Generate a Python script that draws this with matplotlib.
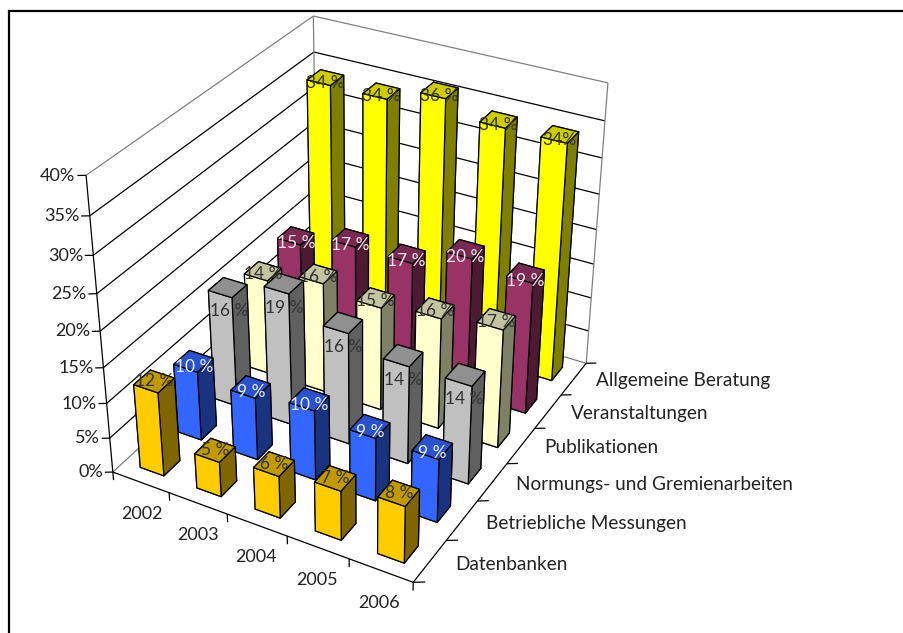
import numpy as np
import matplotlib
matplotlib.use("Agg")
import matplotlib.pyplot as plt
from matplotlib.lines import Line2D
from mpl_toolkits.mplot3d import proj3d

W, H = 904, 633

years = ["2002", "2003", "2004", "2005", "2006"]
series = ["Datenbanken", "Betriebliche Messungen", "Normungs- und Gremienarbeiten",
          "Publikationen", "Veranstaltungen", "Allgemeine Beratung"]
datenbanken = [12, 5, 6, 7, 8]
messungen = [10, 9, 10, 9, 9]
normung = [16, 19, 16, 14, 14]
publikationen = [14, 16, 15, 16, 17]
veranstaltungen = [15, 17, 17, 20, 19]
beratung = [34, 34, 36, 34, 34]
values = [datenbanken, messungen, normung, publikationen, veranstaltungen, beratung]
z_ticks = [0, 5, 10, 15, 20, 25, 30, 35, 40]

# front, side, top colour of each series
colors = [("#FFCC00", "#806600", "#C09A00"),
          ("#3366FF", "#1A3380", "#2952CC"),
          ("#C0C0C0", "#606060", "#909090"),
          ("#FFFFCC", "#808066", "#C4C4A0"),
          ("#993366", "#4D1A33", "#7A2952"),
          ("#FFFF00", "#808000", "#CCCC00")]
label_colors = ["#333333", "#E8ECFF", "#333333", "#333333", "#F0E6EC", "#333333"]
label_dz = [0, -0.8, -3.4, -0.4, -1.1, -0.7]

plt.rcParams["font.family"] = ["Lato", "DejaVu Sans"]
plt.rcParams["font.size"] = 13

fig = plt.figure(figsize=(W / 100, H / 100), dpi=100)
# square 3d axes wider than the figure, so nothing gets clipped
ax = fig.add_axes([0, -(W - H) / 2 / H, 1, W / H], projection="3d", computed_zorder=False)
ax.set_xticks([])
ax.set_yticks([])
ax.set_zticks([])
ax.set_axis_off()
ax.apply_aspect()

# the excel camera: fit it on where the box edges sit in the picture
anchors = [((0, 0, 0), (113, 472)), ((0, 0, 40), (86, 175)), ((0, 0, 35), (90, 216)),
           ((0, 0, 5), (110, 438)), ((5, 0, 0), (413, 582)), ((5, 6, 0), (586, 363)),
           ((5, 6, 40), (608, 83)), ((5, 6, 35), (605, 121)), ((0, 6, 40), (313, 16)),
           ((0, 6, 35), (314, 52)), ((1, 0, 0), (169, 493)), ((2, 0, 0), (227, 514)),
           ((3, 0, 0), (287, 537)), ((4, 0, 0), (349, 558)), ((5, 1, 0), (446, 541)),
           ((5, 2, 0), (478, 501)), ((5, 3, 0), (507, 463)), ((5, 4, 0), (535, 429)),
           ((5, 5, 0), (561, 395))]
to_data = ax.transData.inverted()
uv_px = np.array([[p[0], H - p[1]] for _, p in anchors], float)
uv = to_data.transform(uv_px)
uv_scale = np.abs(uv).max()
rows = []
for (xyz, _), (u, v) in zip(anchors, uv / uv_scale):
    X = [*xyz, 1]
    rows.append([*X, 0, 0, 0, 0, *[-u * c for c in X]])
    rows.append([0, 0, 0, 0, *X, *[-v * c for c in X]])
P = np.linalg.svd(np.array(rows, float))[2][-1].reshape(3, 4)
if P[2] @ [0, 0, 0, 1] < 0:
    P = -P
P[:2] *= uv_scale
M = np.vstack([P[0], P[1], [0, 0, 0, -1], P[2]])
ax.get_proj = lambda: M

grey = "#808080"
lw = 0.9


def seg(a, b, color="black", width=lw, z=1):
    ax.plot([a[0], b[0]], [a[1], b[1]], [a[2], b[2]], color=color, lw=width, zorder=z,
            solid_capstyle="butt")


def label(x, y, z, s, **kw):
    # flat text on top of the 3d scene, placed through the same camera
    u, v, _ = proj3d.proj_transform(x, y, z, M)
    px, py = ax.transData.transform((u, v))
    fig.text(px / W, py / H, s, va="center", **kw)


# walls and floor
for t in z_ticks[1:-1]:
    seg((0, 0, t), (0, 6, t))
    seg((0, 6, t), (5, 6, t))
seg((0, 0, 40), (0, 6, 40), grey)
seg((0, 6, 40), (5, 6, 40), grey)
seg((0, 6, 0), (0, 6, 40), grey)
seg((5, 6, 0), (5, 6, 40), grey)
seg((0, 0, 0), (0, 6, 0), grey)
seg((0, 6, 0), (5, 6, 0), grey)

# axes and ticks
seg((0, 0, 0), (0, 0, 40))
seg((0, 0, 0), (5, 0, 0))
seg((5, 0, 0), (5, 6, 0))
for t in z_ticks:
    seg((0, 0, t), (-0.1, -0.06, t))
    label(-0.12, -0.074, t, f"{t}%", ha="right", color="#222222")
for i in range(6):
    seg((i, 0, 0), (i, 0, -1.2))
for j in range(7):
    seg((5, j, 0), (5.14, j + 0.085, 0))
for i, year in enumerate(years):
    label(i + 0.47, 0, -4.9, year, ha="center", color="#222222")
for j, name in enumerate(series):
    label(5.38, j + 0.5, 0.8, name, ha="left", color="#222222", fontsize=13.7)

# bars, back to front
bar = 0.42
order = 10
for j in range(5, -1, -1):
    front, side, top = colors[j]
    for i in range(5):
        v = values[j][i]
        ax.bar3d(i + 0.5 - bar / 2, j + 0.5 - bar / 2, 0, bar, bar, v,
                 color=[top, top, front, front, side, side], shade=False,
                 edgecolor="black", linewidth=lw, zorder=order)
        order += 1
        txt = f"{v} %"
        if j == 5 and i == 4:
            txt = f"{v}%"
        label(i + 0.5, j + 0.5, v + label_dz[j], txt, ha="center",
              color=label_colors[j], fontsize=12.5)

# picture frame
fig.add_artist(Line2D([9 / W, 9 / W, 1], [0, 1 - 11 / H, 1 - 11 / H], color="black", lw=1.6,
                      solid_joinstyle="miter"))

fig.savefig("out.png", dpi=100, facecolor="white")
